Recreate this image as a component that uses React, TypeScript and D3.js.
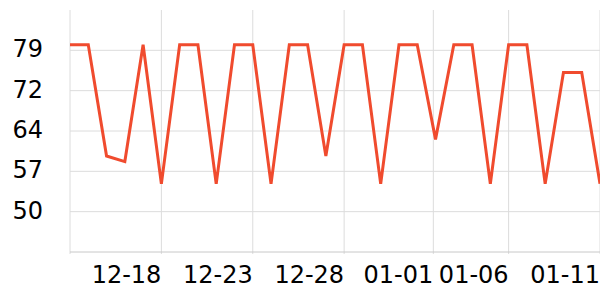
import React from "react";
import * as d3 from "d3";

const values: number[] = [
  80, 80, 60, 59, 80, 55, 80, 80, 55, 80,
  80, 55, 80, 80, 60, 80, 80, 55, 80, 80,
  63, 80, 80, 55, 80, 80, 55, 75, 75, 55,
];
const xTickPos: number[] = [5, 10, 15, 19.88, 24, 29];
const xTickLabels: string[] = ["12-18", "12-23", "12-28", "01-01", "01-06", "01-11"];
const yTicks: number[] = [50, 57.25, 64.5, 71.75, 79];
const yTickLabels: string[] = ["50", "57", "64", "72", "79"];
const yDomain: [number, number] = [42.75, 86.25];

const W = 600;
const H = 300;
const left = 70;
const right = 600;
const top = 10;
const bottom = 252;

export default function App() {
  const x = d3.scaleLinear().domain([0, values.length - 1]).range([left, right]);
  const y = d3.scaleLinear().domain(yDomain).range([bottom, top]);
  const line = d3
    .line<number>()
    .x((_, i) => x(i))
    .y((d) => y(d));
  const font = "DejaVu Sans, sans-serif";
  return (
    <svg
      width={W}
      height={H}
      style={{ position: "absolute", left: 0, top: 0, background: "#fff" }}
    >
      {yTicks.map((t, i) => (
        <g key={"y" + i}>
          <line x1={left} x2={right} y1={y(t)} y2={y(t)} stroke="#dcdcdc" strokeWidth={1} />
          <text
            x={43}
            y={y(t) - 1}
            textAnchor="end"
            dominantBaseline="central"
            fontFamily={font}
            fontSize={24}
            fill="#000"
          >
            {yTickLabels[i]}
          </text>
        </g>
      ))}
      {[0, ...xTickPos].map((ti, i) => (
        <line
          key={"xg" + i}
          x1={x(ti)}
          x2={x(ti)}
          y1={top}
          y2={bottom + 2}
          stroke="#dcdcdc"
          strokeWidth={1}
        />
      ))}
      <line x1={left} x2={right} y1={bottom} y2={bottom} stroke="#c8c8c8" strokeWidth={1} />
      {xTickPos.map((ti, i) => (
        <text
          key={"xl" + i}
          x={x(ti)}
          y={283}
          textAnchor="end"
          fontFamily={font}
          fontSize={24}
          fill="#000"
        >
          {xTickLabels[i]}
        </text>
      ))}
      <path
        d={line(values) || ""}
        fill="none"
        stroke="#f04b2e"
        strokeWidth={3}
        strokeLinejoin="miter"
      />
    </svg>
  );
}
